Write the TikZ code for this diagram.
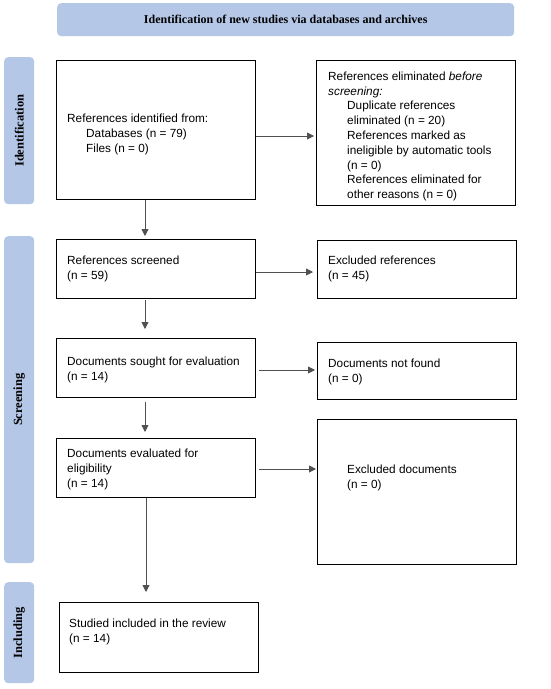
\documentclass[tikz,border=0pt]{standalone}
\usepackage{fontspec}
\setmainfont{Liberation Serif}
\newfontfamily\arialf{Liberation Sans}
\usetikzlibrary{arrows.meta}
\definecolor{bandblue}{RGB}{180,199,231}
\definecolor{arrgray}{RGB}{80,80,80}
\begin{document}
\begin{tikzpicture}[x=1pt,y=-1pt,
  box/.style={draw=black,line width=1.2pt,anchor=north west,inner sep=0pt,minimum width=199pt},
  band/.style={fill=bandblue,draw=none,rounded corners=4pt,anchor=north west,inner sep=0pt},
  bandtext/.style={font=\bfseries\fontsize{12}{14}\selectfont},
  sidetext/.style={font=\bfseries\fontsize{12.5}{14}\selectfont,rotate=90},
  txt/.style={anchor=north west,inner sep=0pt,align=left,font=\arialf\fontsize{11.8}{15}\selectfont},
  arr/.style={draw=arrgray,line width=0.9pt,-{Triangle[length=7pt,width=7pt]}}]
\useasboundingbox[fill=white] (0,0) rectangle (550,689);
% banner and phase bars
\node[band,minimum width=457pt,minimum height=33pt] (top) at (57,3) {};
\node[bandtext] (toptxt) at (top.center) {Identification of new studies via databases and archives};
\node[band,minimum width=30pt,minimum height=147pt] (sid) at (4,57) {};
\node[sidetext] (sidtxt) at (sid.center) {Identification};
\node[band,minimum width=30pt,minimum height=327pt] (sscr) at (4,236) {};
\node[sidetext] (sscrtxt) at (sscr.center) {Screening};
\node[band,minimum width=30pt,minimum height=101pt] (sinc) at (4,582) {};
\node[sidetext] (sinctxt) at (sinc.center) {Including};
% boxes
\node[box,minimum height=139pt] (a) at (56,60) {};
\node[box,minimum height=145pt] (b) at (316,60) {};
\node[box,minimum height=59pt] (c) at (56,239) {};
\node[box,minimum height=58pt] (d) at (317,240) {};
\node[box,minimum height=59pt] (e) at (56,338) {};
\node[box,minimum height=57pt] (f) at (317,342) {};
\node[box,minimum height=59pt] (g) at (56,438) {};
\node[box,minimum height=145pt] (h) at (317,419) {};
\node[box,minimum height=70pt] (i) at (59,602) {};
% texts
\node[txt] (atxt) at (67,113.5) {References identified from:\\\hspace*{19pt}Databases (n = 79)\\\hspace*{19pt}Files (n = 0)};
\node[txt,font=\arialf\fontsize{11.8}{14.8}\selectfont] (btxt) at (328,71.5) {References eliminated \textit{before}\\\textit{screening:}\\\hspace*{19pt}Duplicate references\\\hspace*{19pt}eliminated (n = 20)\\\hspace*{19pt}References marked as\\\hspace*{19pt}ineligible by automatic tools\\\hspace*{19pt}(n = 0)\\\hspace*{19pt}References eliminated for\\\hspace*{19pt}other reasons (n = 0)};
\node[txt] (ctxt) at (67,255.5) {References screened\\(n = 59)};
\node[txt] (dtxt) at (328,255.5) {Excluded references\\(n = 45)};
\node[txt] (etxt) at (67,356.5) {Documents sought for evaluation\\(n = 14)};
\node[txt] (ftxt) at (328,358.5) {Documents not found\\(n = 0)};
\node[txt] (gtxt) at (67,448.5) {Documents evaluated for\\eligibility\\(n = 14)};
\node[txt] (htxt) at (347,464.5) {Excluded documents\\(n = 0)};
\node[txt] (itxt) at (69,618.5) {Studied included in the review\\(n = 14)};
% connector guides
\coordinate (xl) at (145,0);
\coordinate (xl2) at (146,0);
\coordinate (yab) at (0,136);
\coordinate (ycd) at (0,272);
\coordinate (yef) at (0,370);
\coordinate (ygh) at (0,469);
% vertical arrows
\draw[arr,shorten >=3pt] (a.south -| xl) -- (c.north -| xl);
\draw[arr,shorten <=1pt,shorten >=9pt] (c.south -| xl) -- (e.north -| xl);
\draw[arr,shorten <=4pt,shorten >=6pt] (e.south -| xl) -- (g.north -| xl);
\draw[arr,shorten >=10pt] (g.south -| xl2) -- (i.north -| xl2);
% horizontal arrows
\draw[arr,shorten >=2pt] (a.east |- yab) -- (b.west |- yab);
\draw[arr,shorten >=4pt] (c.east |- ycd) -- (d.west |- ycd);
\draw[arr,shorten <=3pt,shorten >=2pt] (e.east |- yef) -- (f.west |- yef);
\draw[arr,shorten <=3pt,shorten >=1pt] (g.east |- ygh) -- (h.west |- ygh);
\end{tikzpicture}
\end{document}
